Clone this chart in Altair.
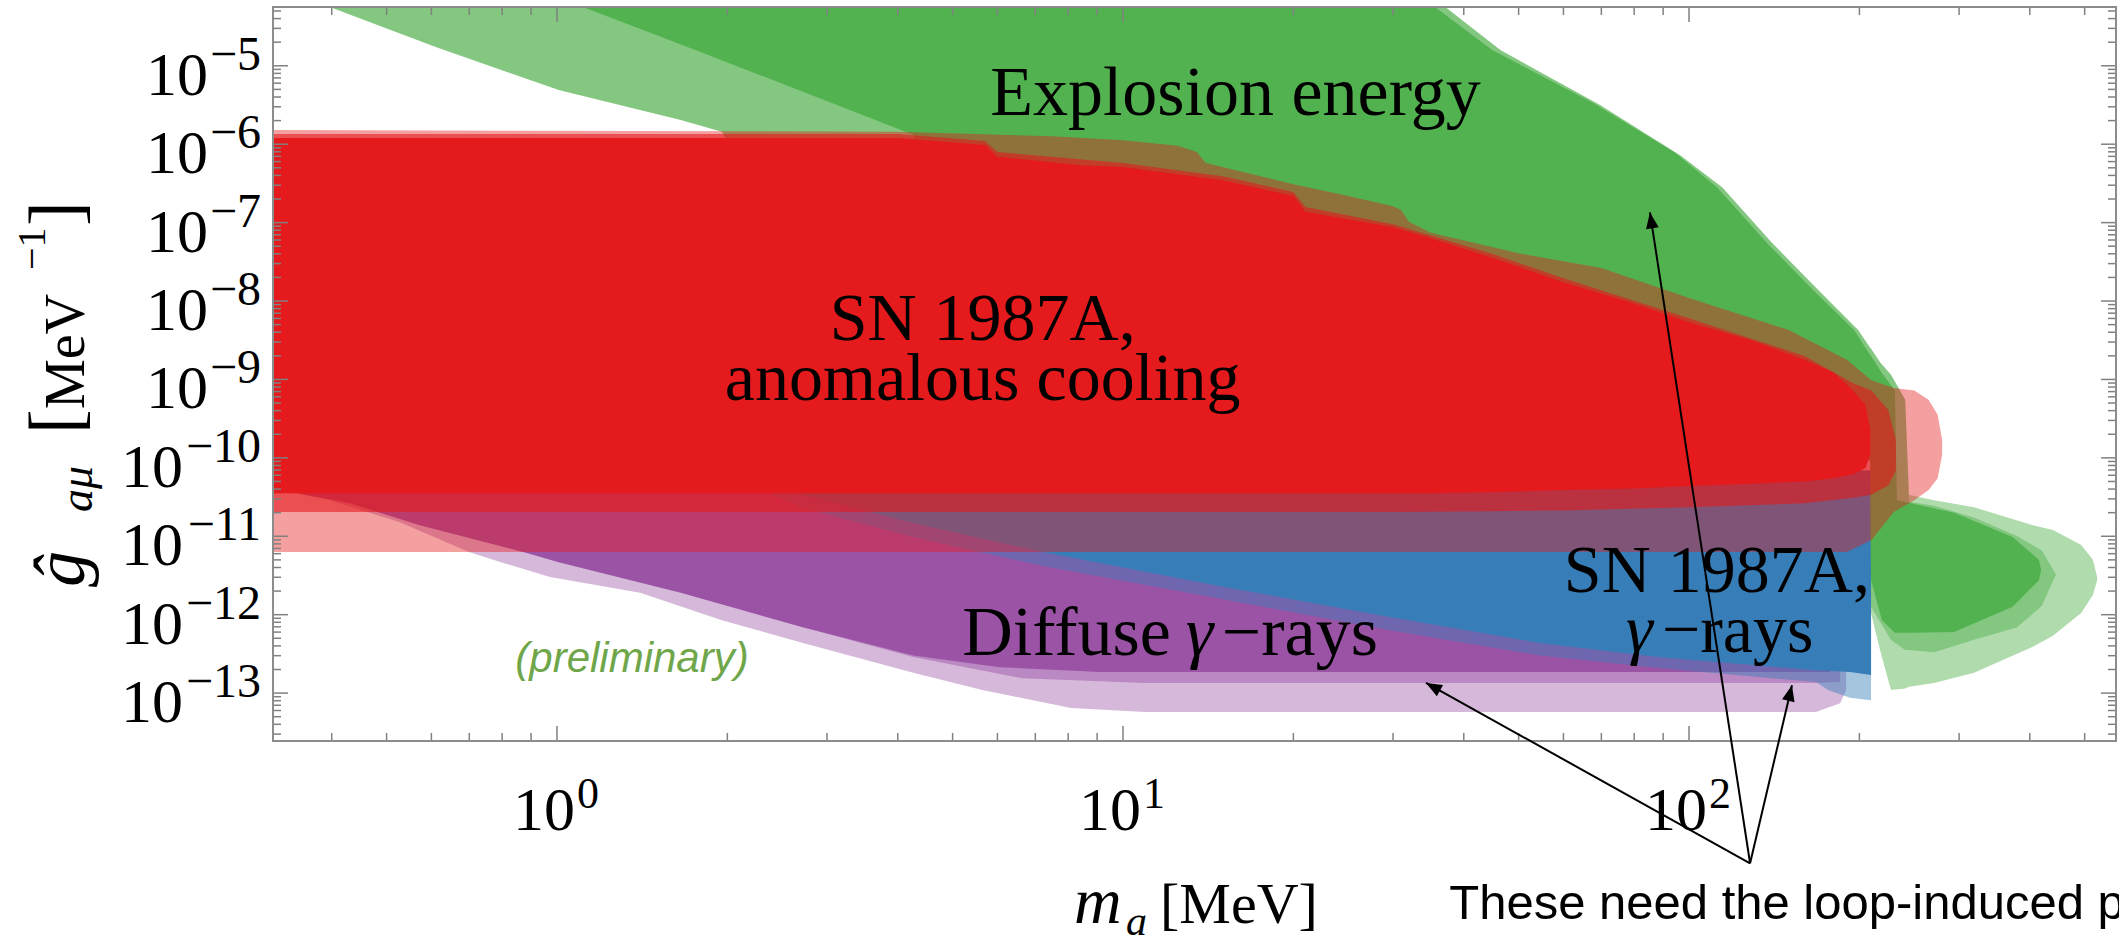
import math
import pandas as pd
import altair as alt

# ---------------- axes ----------------
X_DOMAIN = [0.315, 568.0]        # m_a [MeV]
Y_DOMAIN = [2.45e-14, 5.62e-5]   # g_a mu [MeV^-1]
W, H = 1843, 734

RED, GREEN, BLUE, PURPLE = "#e41a1c", "#4daf4a", "#377eb8", "#984ea3"
SERIF = "Liberation Serif"
SANS = "Liberation Sans"
TICK = "#808080"

# ---------------- regions (m in MeV, boundaries as log10 g) ----------------
# Diffuse gamma-rays (purple)
p_light_m = [0.315, 0.397, 0.528, 0.699, 0.796, 0.972, 1.402, 1.956, 2.72, 4.26, 5.64, 8.09, 10.94, 167.6, 184.9, 189.5]
p_light_hi = [-10.16, -10.16, -10.16, -10.16, -10.16, -10.16, -10.16, -10.16, -10.16, -10.16, -10.16, -10.16, -10.16, -10.16, -10.16, -10.16]
p_light_lo = [-10.39, -10.54, -10.82, -11.20, -11.33, -11.52, -11.72, -12.07, -12.36, -12.74, -12.96, -13.19, -13.24, -13.24, -13.13, -12.96]

p_mid_m = [0.315, 0.431, 0.573, 0.882, 1.008, 1.656, 2.72, 4.26, 6.63, 10.94, 167.6, 184.9]
p_mid_hi = [-10.16, -10.16, -10.16, -10.16, -10.16, -10.16, -10.16, -10.16, -10.16, -10.16, -10.16, -10.16]
p_mid_lo = [-10.39, -10.58, -10.86, -11.21, -11.33, -11.72, -12.16, -12.54, -12.81, -12.87, -12.87, -12.86]

p_core_m = [0.315, 0.431, 0.573, 0.882, 1.008, 1.656, 2.72, 4.26, 6.06, 9.11, 177.5]
p_core_hi = [-10.16, -10.16, -10.16, -10.16, -10.16, -10.16, -10.16, -10.16, -10.16, -10.16, -10.16]
p_core_lo = [-10.39, -10.58, -10.86, -11.21, -11.33, -11.72, -12.16, -12.52, -12.67, -12.73, -12.73]

# SN 1987A gamma-rays (blue)
b_light_m = [2.284, 2.72, 4.26, 7.22, 15.2, 29.6, 54.5, 88.1, 167.6, 176.0, 192.5, 209.7]
b_light_hi = [-10.16, -10.16, -10.16, -10.16, -10.16, -10.16, -10.16, -10.16, -10.16, -10.16, -10.16, -10.16]
b_light_lo = [-10.41, -10.64, -11.01, -11.38, -11.81, -12.20, -12.52, -12.68, -12.86, -12.96, -13.06, -13.09]

b_core_m = [2.478, 2.72, 4.26, 7.22, 15.2, 29.6, 54.5, 88.1, 167.6, 192.5, 209.7]
b_core_hi = [-10.16, -10.16, -10.16, -10.16, -10.16, -10.16, -10.16, -10.16, -10.16, -10.16, -10.16]
b_core_lo = [-10.39, -10.47, -10.83, -11.20, -11.65, -12.03, -12.36, -12.54, -12.71, -12.73, -12.77]

# Explosion energy (green)
g_light_m = [0.397, 0.611, 1.008, 1.656, 1.956, 2.284, 33.5, 46.4, 69.6, 96.4, 114.4, 140.2, 169.1, 198.9,
             209.0, 209.7, 217.5, 227.4, 240.9, 244.7, 254.9, 271.0, 318.8, 405.0, 439.5, 493.0, 517.0, 526.0]
g_light_hi = [-4.0, -4.0, -4.0, -4.0, -4.0, -4.0, -4.0, -4.80, -5.50, -6.14, -6.55, -7.26, -7.86, -8.37,
              -8.60, -8.61, -8.78, -8.94, -9.26, -10.47, -10.50, -10.54, -10.63, -10.86, -10.92, -11.11, -11.30, -11.52]
g_light_lo = [-4.25, -4.76, -5.31, -5.69, -5.84, -6.71, -10.03, -10.03, -10.03, -10.03, -10.03, -10.03, -10.03, -10.03,
              -10.03, -11.98, -12.45, -12.96, -12.94, -12.92, -12.90, -12.87, -12.74, -12.41, -12.27, -11.98, -11.75, -11.56]

g_mid_m = [0.397, 0.611, 1.008, 1.656, 1.956, 2.284, 33.5, 46.4, 69.6, 96.4, 114.4, 140.2, 169.1, 198.9,
           209.0, 209.7, 217.5, 227.4, 240.9, 244.7, 271.0, 318.8, 380.0, 420.0, 440.0, 445.0]
g_mid_hi = [-4.0, -4.0, -4.0, -4.0, -4.0, -4.0, -4.0, -4.80, -5.50, -6.14, -6.55, -7.26, -7.86, -8.37,
            -8.60, -8.61, -8.78, -8.94, -9.26, -10.56, -10.61, -10.76, -11.00, -11.18, -11.43, -11.49]
g_mid_lo = [-4.25, -4.76, -5.31, -5.69, -5.84, -6.71, -10.03, -10.03, -10.03, -10.03, -10.03, -10.03, -10.03, -10.03,
            -10.03, -11.90, -12.09, -12.32, -12.45, -12.45, -12.48, -12.32, -12.16, -11.89, -11.56, -11.49]

g_dark_m = [1.111, 1.789, 4.26, 4.9, 32.0, 44.9, 67.6, 94.5, 112.0, 137.3, 165.6, 195.7, 209.0, 209.7,
            219.2, 231.1, 233.0, 246.8, 294.0, 373.0, 415.0, 419.0]
g_dark_hi = [-4.0, -4.0, -4.0, -4.0, -4.0, -4.80, -5.47, -6.11, -6.55, -7.26, -7.86, -8.37, -8.69, -8.70,
             -8.92, -9.14, -10.54, -10.58, -10.70, -11.01, -11.30, -11.43]
g_dark_lo = [-4.25, -4.82, -5.88, -6.71, -10.03, -10.03, -10.03, -10.03, -10.03, -10.03, -10.03, -10.03, -10.03, -11.56,
             -12.07, -12.23, -12.23, -12.23, -12.22, -11.90, -11.56, -11.43]

# SN 1987A anomalous cooling (red)
r0_m = [0.315, 4.0, 7.5, 10.0, 12.5, 13.5, 14.0, 20.0, 25.0, 30.0, 31.0, 32.0, 35.0, 50.0, 70.0, 100.0,
        150.0, 190.0, 210.0, 230.0, 250.0, 265.0, 275.0, 280.0]
r0_hi = [-5.82, -5.84, -5.90, -5.95, -6.02, -6.10, -6.24, -6.51, -6.66, -6.79, -6.84, -6.99, -7.13, -7.39, -7.58, -7.96,
         -8.37, -8.75, -9.01, -9.11, -9.14, -9.26, -9.45, -9.77]
r0_lo = [-11.20, -11.20, -11.20, -11.20, -11.20, -11.20, -11.20, -11.20, -11.20, -11.20, -11.20, -11.20, -11.20, -11.20,
         -11.20, -11.20, -11.20, -11.20, -11.05, -10.69, -10.54, -10.41, -10.26, -9.96]

r1_m = [0.315, 4.0, 5.7, 6.0, 10.0, 15.0, 20.0, 21.0, 30.0, 45.0, 60.0, 100.0, 160.0, 195.0, 210.0, 225.0, 232.0]
r1_hi = [-5.87, -5.87, -5.96, -6.10, -6.24, -6.41, -6.61, -6.80, -7.02, -7.40, -7.71, -8.22, -8.70, -9.05, -9.14, -9.39, -9.77]
r1_lo = [-10.69, -10.69, -10.69, -10.69, -10.69, -10.69, -10.69, -10.69, -10.69, -10.68, -10.67, -10.63, -10.58, -10.51,
         -10.47, -10.35, -10.16]

r_core_m = [0.315, 4.0, 5.7, 6.0, 8.5, 10.0, 15.0, 20.0, 21.0, 30.0, 35.0, 45.0, 60.0, 80.0, 100.0, 130.0, 160.0,
            180.0, 195.0, 205.0, 209.0]
r_core_hi = [-5.92, -5.92, -6.01, -6.16, -6.27, -6.29, -6.46, -6.66, -6.86, -7.06, -7.20, -7.45, -7.76, -8.03, -8.27,
             -8.51, -8.75, -8.91, -9.14, -9.33, -9.65]
r_core_lo = [-10.45, -10.45, -10.45, -10.45, -10.45, -10.45, -10.45, -10.45, -10.45, -10.45, -10.45, -10.44, -10.41,
             -10.39, -10.36, -10.33, -10.30, -10.26, -10.21, -10.13, -9.96]

# ---------------- text labels ----------------
label_text = ["Explosion energy", "SN 1987A,", "anomalous cooling", "SN 1987A,"]
label_m = [15.8, 5.65, 5.65, 112.0]
label_lg = [-5.63, -8.50, -9.26, -11.71]

diffuse_m, diffuse_lg = 12.6, -12.52
gray_m, gray_lg = 112.0, -12.48
prelim_m, prelim_lg = 1.357, -12.73
note_m, note_lg = 37.7, -15.88
note_text = "These need the loop-induced p"

# arrows
arrow_origin_m, arrow_origin_lg = 128.2, -15.17
arrow_tip_m = [85.3, 34.3, 152.0]
arrow_tip_lg = [-6.87, -12.87, -12.90]

# axis ticks
y_decades = [-14, -13, -12, -11, -10, -9, -8, -7, -6, -5]
x_decades = [-1, 0, 1, 2]
multipliers = [1, 2, 3, 4, 5, 6, 7, 8, 9]
y_label_exps = [-13, -12, -11, -10, -9, -8, -7, -6, -5]
x_label_exps = [0, 1, 2]

# ---------------- chart ----------------
XS = alt.Scale(type="log", domain=X_DOMAIN, nice=False)
YS = alt.Scale(type="log", domain=Y_DOMAIN, nice=False)


def region(m, hi, lo, color, op):
    df = pd.DataFrame({"m": m, "hi": hi, "lo": lo})
    return alt.Chart(df).transform_calculate(
        gh="pow(10, datum.hi)", gl="pow(10, datum.lo)"
    ).mark_area(fill=color, fillOpacity=op, clip=True, interpolate="linear").encode(
        x=alt.X("m:Q", scale=XS, axis=None),
        y=alt.Y("gh:Q", scale=YS, axis=None),
        y2=alt.Y2("gl:Q"),
    )


layers = [
    region(p_light_m, p_light_hi, p_light_lo, PURPLE, 0.40),
    region(p_mid_m, p_mid_hi, p_mid_lo, PURPLE, 0.45),
    region(p_core_m, p_core_hi, p_core_lo, PURPLE, 0.90),
    region(b_light_m, b_light_hi, b_light_lo, BLUE, 0.45),
    region(b_core_m, b_core_hi, b_core_lo, BLUE, 1.0),
    region(g_light_m, g_light_hi, g_light_lo, GREEN, 0.45),
    region(g_mid_m, g_mid_hi, g_mid_lo, GREEN, 0.45),
    region(g_dark_m, g_dark_hi, g_dark_lo, GREEN, 0.90),
    region(r0_m, r0_hi, r0_lo, RED, 0.42),
    region(r1_m, r1_hi, r1_lo, RED, 0.60),
    region(r_core_m, r_core_hi, r_core_lo, RED, 1.0),
]

# ticks (inward, on all four sides)
y_major, y_minor, x_major, x_minor = [], [], [], []
for e in y_decades:
    for k in multipliers:
        v = k * 10.0 ** e
        if Y_DOMAIN[0] <= v <= Y_DOMAIN[1]:
            (y_major if k == 1 else y_minor).append(v)
for e in x_decades:
    for k in multipliers:
        v = k * 10.0 ** e
        if X_DOMAIN[0] <= v <= X_DOMAIN[1]:
            (x_major if k == 1 else x_minor).append(v)


def ytick(vals, x0, x1):
    return alt.Chart(pd.DataFrame({"v": vals})).mark_rule(color=TICK, strokeWidth=1.5).encode(
        y=alt.Y("v:Q", scale=YS, axis=None), x=alt.value(x0), x2=alt.value(x1))


def xtick(vals, y0, y1):
    return alt.Chart(pd.DataFrame({"v": vals})).mark_rule(color=TICK, strokeWidth=1.5).encode(
        x=alt.X("v:Q", scale=XS, axis=None), y=alt.value(y0), y2=alt.value(y1))


MAJ, MIN = 15, 8
layers += [
    ytick(y_major, 0, MAJ), ytick(y_minor, 0, MIN),
    ytick(y_major, W, W - MAJ), ytick(y_minor, W, W - MIN),
    xtick(x_major, H, H - MAJ), xtick(x_minor, H, H - MIN),
    xtick(x_major, 0, MAJ), xtick(x_minor, 0, MIN),
]

# frame
layers.append(
    alt.Chart(pd.DataFrame({"a": [0]})).mark_rect(fillOpacity=0, stroke="#8c8c8c", strokeWidth=2).encode(
        x=alt.value(0), x2=alt.value(W), y=alt.value(0), y2=alt.value(H))
)


def label(text, m, lg, size=68, style="normal", align="center", dx=0, font=SERIF, color="black"):
    df = pd.DataFrame({"m": [m], "lg": [lg], "t": [text]})
    return alt.Chart(df).transform_calculate(g="pow(10, datum.lg)").mark_text(
        align=align, baseline="alphabetic", dx=dx, font=font, fontSize=size, fontStyle=style, color=color
    ).encode(x=alt.X("m:Q", scale=XS, axis=None), y=alt.Y("g:Q", scale=YS, axis=None), text="t:N")


for t, m, lg in zip(label_text, label_m, label_lg):
    layers.append(label(t, m, lg, size=70 if t.startswith("Explosion") else 68))
layers += [
    label("Diffuse", diffuse_m, diffuse_lg, size=70, align="right", dx=-9),
    label("\u03b3", diffuse_m, diffuse_lg, size=70, align="left", dx=6, style="italic"),
    label("\u2212rays", diffuse_m, diffuse_lg, size=70, align="left", dx=42),
    label("\u03b3", gray_m, gray_lg, align="left", dx=-91, style="italic"),
    label("\u2212rays", gray_m, gray_lg, align="left", dx=-55),
    label("(preliminary)", prelim_m, prelim_lg, size=42, style="italic", font=SANS, color="#70a64a"),
    label(note_text, note_m, note_lg, size=49, align="left", font=SANS),
]

# arrows
kx = W / (math.log10(X_DOMAIN[1]) - math.log10(X_DOMAIN[0]))
ky = H / (math.log10(Y_DOMAIN[1]) - math.log10(Y_DOMAIN[0]))
angles = []
for m1, lg1 in zip(arrow_tip_m, arrow_tip_lg):
    dxp = (math.log10(m1) - math.log10(arrow_origin_m)) * kx
    dyp = -(lg1 - arrow_origin_lg) * ky
    angles.append(math.degrees(math.atan2(dxp, -dyp)) % 360)
arrow_df = pd.DataFrame({
    "m0": [arrow_origin_m] * len(arrow_tip_m), "lg0": [arrow_origin_lg] * len(arrow_tip_m),
    "m1": arrow_tip_m, "lg1": arrow_tip_lg, "ang": angles,
})
arrow_base = alt.Chart(arrow_df).transform_calculate(g0="pow(10, datum.lg0)", g1="pow(10, datum.lg1)")
layers.append(arrow_base.mark_rule(color="black", strokeWidth=2).encode(
    x=alt.X("m0:Q", scale=XS, axis=None), y=alt.Y("g0:Q", scale=YS, axis=None),
    x2="m1:Q", y2="g1:Q"))
layers.append(arrow_base.mark_point(shape="M0,0L0.8,2L-0.8,2Z", filled=True, fill="black", size=256, opacity=1,
                                    strokeWidth=0).encode(
    x=alt.X("m1:Q", scale=XS, axis=None), y=alt.Y("g1:Q", scale=YS, axis=None),
    angle=alt.Angle("ang:Q", scale=None)))

# tick labels
ylab = alt.Chart(pd.DataFrame({"e": y_label_exps})).transform_calculate(v="pow(10, datum.e)")
layers += [
    ylab.transform_filter("datum.e <= -10").mark_text(
        text="10", align="right", baseline="alphabetic", dy=29, font=SERIF, fontSize=62, color="black"
    ).encode(y=alt.Y("v:Q", scale=YS, axis=None), x=alt.value(-90)),
    ylab.transform_filter("datum.e > -10").mark_text(
        text="10", align="right", baseline="alphabetic", dy=29, font=SERIF, fontSize=62, color="black"
    ).encode(y=alt.Y("v:Q", scale=YS, axis=None), x=alt.value(-65)),
    ylab.transform_calculate(t="'\u2212' + (-datum.e)").mark_text(
        align="right", baseline="alphabetic", dy=4, font=SERIF, fontSize=48, color="black"
    ).encode(y=alt.Y("v:Q", scale=YS, axis=None), x=alt.value(-12), text="t:N"),
]
xlab = alt.Chart(pd.DataFrame({"e": x_label_exps})).transform_calculate(v="pow(10, datum.e)")
layers += [
    xlab.mark_text(text="10", align="right", baseline="alphabetic", dx=18, font=SERIF, fontSize=62,
                   color="black").encode(x=alt.X("v:Q", scale=XS, axis=None), y=alt.value(823)),
    xlab.transform_calculate(t="'' + datum.e").mark_text(
        align="left", baseline="alphabetic", dx=20, font=SERIF, fontSize=44, color="black"
    ).encode(x=alt.X("v:Q", scale=XS, axis=None), y=alt.value(801), text="t:N"),
]


def piece(text, x, y, size, style="normal", angle=0):
    return alt.Chart(pd.DataFrame({"t": [text]})).mark_text(
        align="left", baseline="alphabetic", font=SERIF, fontSize=size, fontStyle=style, angle=angle, color="black"
    ).encode(x=alt.value(x), y=alt.value(y), text="t:N")


# axis titles
layers += [
    piece("m", 801, 916, 66, "italic"),
    piece("a", 853, 928, 42, "italic"),
    piece("[MeV]", 887, 916, 58),
    piece("\u011d", -189, 580, 72, "italic", 270),
    piece("a\u03bc", -181, 505, 46, "italic", 270),
    piece("[", -193, 427, 74, "normal", 270),
    piece("MeV", -189, 402, 56, "normal", 270),
    piece("\u22121", -228, 263, 40, "normal", 270),
    piece("]", -193, 219, 74, "normal", 270),
]

chart = alt.layer(*layers).properties(
    width=W, height=H,
    padding={"left": 273, "top": 7, "right": 3, "bottom": 202},
    autosize=alt.AutoSizeParams(type="none"),
    background="white",
).configure_view(strokeWidth=0)

chart.save("out.html", embed_options={"renderer": "svg", "actions": False})
